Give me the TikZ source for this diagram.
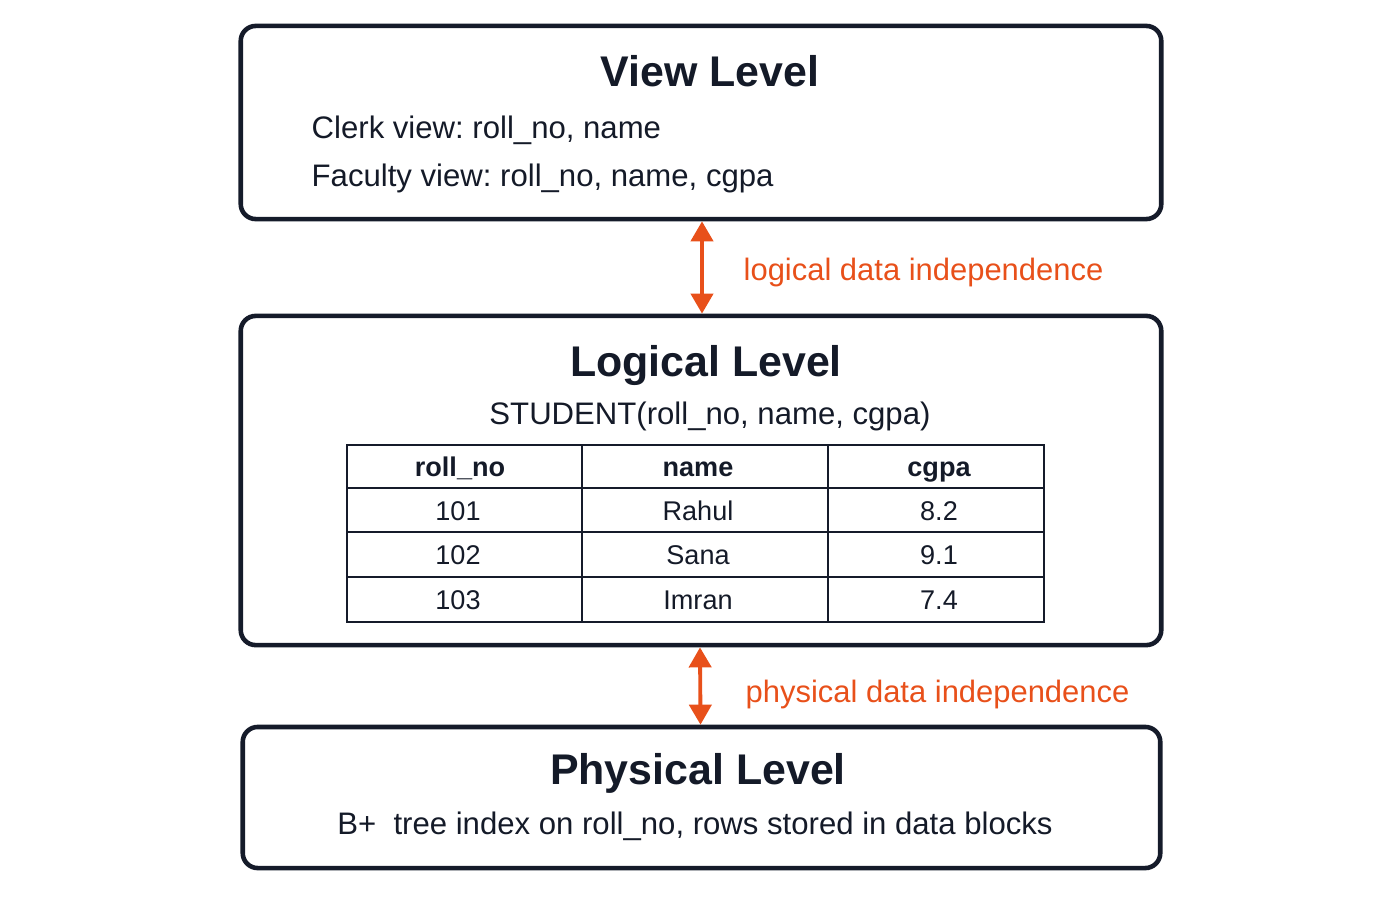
\documentclass[tikz,border=0pt]{standalone}
\usepackage{fontspec}
\setmainfont{Liberation Sans}
\usetikzlibrary{arrows.meta, positioning}
\frenchspacing
\definecolor{boxline}{HTML}{151B2A}
\definecolor{textdark}{HTML}{141A28}
\definecolor{indeporange}{HTML}{E8501A}
\tikzset{
  levelbox/.style={draw=boxline, line width=1.3pt, rounded corners=0.15cm, minimum width=9.2cm, inner sep=0pt},
  titletext/.style={text=textdark, font=\fontsize{12.2}{15}\selectfont\bfseries, inner sep=0pt},
  bodytext/.style={text=textdark, font=\fontsize{8.85}{11}\selectfont, inner sep=0pt},
  headtext/.style={text=textdark, font=\fontsize{7.7}{9}\selectfont\bfseries, inner sep=0pt},
  celltext/.style={text=textdark, font=\fontsize{7.7}{9}\selectfont, inner sep=0pt},
  tableline/.style={draw=boxline, line width=0.8pt},
  indep/.style={{Triangle[width=6.3pt,length=5.7pt]}-{Triangle[width=6.3pt,length=5.7pt]}, draw=indeporange, line width=1.1pt},
  indeptext/.style={text=indeporange, font=\fontsize{8.8}{11}\selectfont, inner sep=0pt}
}
\begin{document}
\begin{tikzpicture}[x=0.01cm, y=-0.01cm]
\useasboundingbox (0,0) rectangle (1400,900);

% Draw level boxes
\node[levelbox, minimum height=1.93cm] (view) at (701,122.5) {};
\node[levelbox, minimum height=3.29cm] (logical) at (701,480.5) {};
\node[levelbox, minimum height=1.41cm, minimum width=9.17cm] (physical) at (701.5,797.5) {};

% View level
\node[titletext, anchor=base] (viewTitle) at (710,86) {View Level};
\node[bodytext, anchor=base west] (clerk) at (311,138) {Clerk view: roll\_no, name};
\node[bodytext, anchor=base west] (faculty) at (311,186) {Faculty view: roll\_no, name, cgpa};

% Logical level
\node[titletext, anchor=base] (logicalTitle) at (706,376) {Logical Level};
\node[bodytext, anchor=base] (schema) at (710,424) {STUDENT(roll\_no, name, cgpa)};

% Draw student table
\draw[tableline] (347,445) rectangle (1044,622);
\foreach \y in {488,532,577}
  \draw[tableline] (347,\y) -- (1044,\y);
\foreach \x in {582,828}
  \draw[tableline] (\x,445) -- (\x,622);
\foreach \txt/\x [count=\c] in {roll\_no/460, name/698, cgpa/939}
  \node[headtext, anchor=base] (head\c) at (\x,476) {\txt};
\foreach \no/\nm/\gp/\y [count=\r] in {101/Rahul/8.2/520, 102/Sana/9.1/564, 103/Imran/7.4/609} {
  \node[celltext, anchor=base] (no\r) at (458,\y) {\no};
  \node[celltext, anchor=base] (nm\r) at (698,\y) {\nm};
  \node[celltext, anchor=base] (gp\r) at (939,\y) {\gp};
}

% Physical level
\node[titletext, anchor=base] (physicalTitle) at (698,784) {Physical Level};
\node[bodytext, anchor=base] (storage) at (695,834) {B+\ \ tree index on roll\_no, rows stored in data blocks};

% Draw independence arrows
\draw[indep] ([xshift=0.01cm]view.south) -- ([xshift=0.01cm]logical.north);
\node[indeptext, anchor=base west] (logicalIndep) at (743,280) {logical data independence};
\draw[indep] ([xshift=-0.01cm]logical.south) -- ([xshift=-0.01cm]physical.north);
\node[indeptext, anchor=base west] (physicalIndep) at (745,702) {physical data independence};

\end{tikzpicture}
\end{document}
